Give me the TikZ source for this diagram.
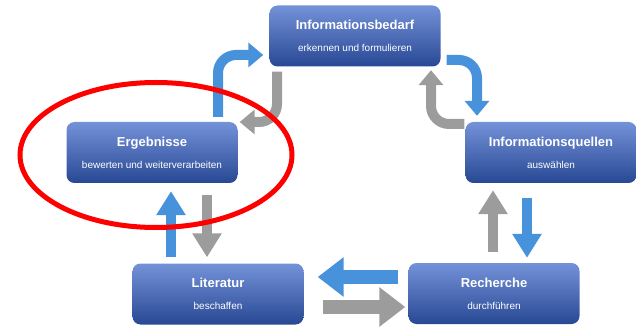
\documentclass[tikz,border=0pt]{standalone}
\usepackage{fontspec}
\setmainfont{Liberation Sans}
\usetikzlibrary{arrows.meta}

\definecolor{boxtop}{RGB}{116,146,216}
\definecolor{boxbottom}{RGB}{40,72,148}
\definecolor{flowblue}{RGB}{72,146,220}
\definecolor{flowgray}{RGB}{156,156,156}

\newcommand{\boxtitle}{\fontsize{13}{14}\selectfont\bfseries}
\newcommand{\boxsub}{\fontsize{10}{11}\selectfont}

\begin{document}
\begin{tikzpicture}[x=1pt,y=-1pt]
    \useasboundingbox (0,0) rectangle (637,331);

    \tikzset{StepBox/.style={rectangle, rounded corners=8pt, minimum width=171pt,
        minimum height=61pt, top color=boxtop, bottom color=boxbottom,
        text=white, align=center, inner sep=0pt}}
    \node[StepBox] (bedarf) at (355,36)
        {\boxtitle Informationsbedarf\\[10pt]\boxsub erkennen und formulieren};
    \node[StepBox] (quellen) at (551,152.5)
        {\boxtitle Informationsquellen\\[10pt]\boxsub auswählen};
    \node[StepBox] (recherche) at (494,293.5)
        {\boxtitle Recherche\\[10pt]\boxsub durchführen};
    \node[StepBox] (literatur) at (218,294)
        {\boxtitle Literatur\\[10pt]\boxsub beschaffen};
    \node[StepBox] (ergebnisse) at (152,152.5)
        {\boxtitle Ergebnisse\\[10pt]\boxsub bewerten und weiterverarbeiten};

    % bent arrows at the top
    \tikzset{BendFlow/.style={line width=10pt, rounded corners=18pt,
        -{Triangle[length=15pt,width=24pt]}}}
    \draw[BendFlow, flowblue] ([shift={(66,-5)}]ergebnisse.north) |- ([shift={(-6,19)}]bedarf.west);
    \draw[BendFlow, flowgray] ([shift={(-78,5)}]bedarf.south) |- ([shift={(2,-30.5)}]ergebnisse.east);
    \draw[BendFlow, flowblue] ([shift={(6,24)}]bedarf.east) -| ([shift={(-74,-6)}]quellen.north);
    \draw[BendFlow, flowgray] ([shift={(-1,-28.5)}]quellen.west) -| ([shift={(76,3.5)}]bedarf.south);

    % straight arrows
    \tikzset{FlowArrow/.style={line width=10pt, -{Triangle[length=24pt,width=28pt]}}}
    \draw[FlowArrow, flowgray] ([shift={(-1,-11)}]recherche.north) -- ([shift={(-58,7)}]quellen.south);
    \draw[FlowArrow, flowblue] ([shift={(-24,15)}]quellen.south) -- ([shift={(33,-5)}]recherche.north);
    \draw[FlowArrow, flowblue] ([shift={(-47,-6)}]literatur.north) -- ([shift={(19,8)}]ergebnisse.south);
    \draw[FlowArrow, flowgray] ([shift={(55,12)}]ergebnisse.south) -- ([shift={(-11,-6)}]literatur.north);

    \tikzset{BigFlow/.style={line width=14pt, -{Triangle[length=26pt,width=38pt]}}}
    \draw[BigFlow, flowblue] ([shift={(-10,-16.5)}]recherche.west) -- ([shift={(14,-17)}]literatur.east);
    \draw[BigFlow, flowgray] ([shift={(19,13)}]literatur.east) -- ([shift={(-3,13.5)}]recherche.west);

    \draw[red, line width=5pt] (156,155) ellipse [x radius=136pt, y radius=72.5pt];
\end{tikzpicture}
\end{document}
